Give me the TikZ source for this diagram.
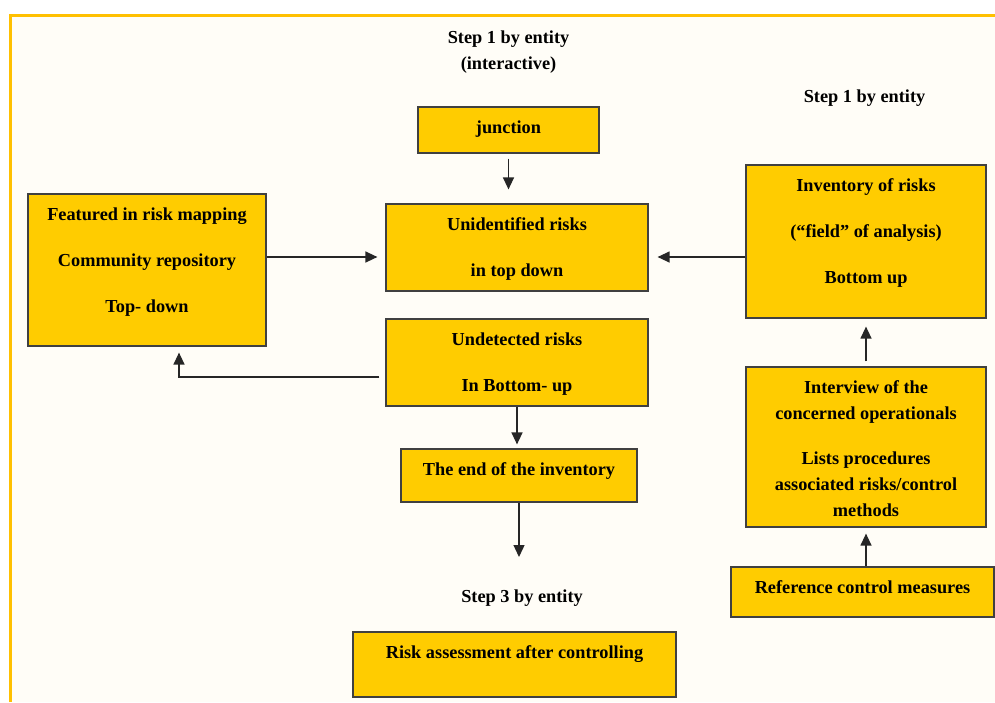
\documentclass[tikz,border=0pt]{standalone}
\usepackage{fontspec}
\setmainfont{Liberation Serif}
\usetikzlibrary{arrows.meta}
\definecolor{boxfill}{HTML}{FFCC00}
\definecolor{frameline}{HTML}{FFC000}
\definecolor{paper}{HTML}{FFFDF7}
\newcommand{\boxlines}[3]{\parbox[c][#1][t]{#2}{\centering\vspace*{14pt}#3}}
\begin{document}
\begin{tikzpicture}[x=1pt,y=-1pt,
	riskbox/.style={draw=black!75,line width=1.2pt,fill=boxfill,inner sep=0pt},
	arr/.style={draw=black!85,line width=1.3pt,-{Triangle[length=12pt,width=11pt]}},
	every node/.style={font=\fontsize{18.3}{26}\selectfont\bfseries}]
	\useasboundingbox (0,0) rectangle (995,702);
	\fill[white] (0,0) rectangle (995,702);
	\fill[paper] (10,15) rectangle (995,702);
	\draw[frameline,line width=3pt] (10,702) -- (10,15) -- (995,15);
	% headings
	\node[align=center,inner sep=0pt] (stepa) at (508.5,52) {Step 1 by entity\\(interactive)};
	\node[inner sep=0pt] (stepb) at (864.5,98) {Step 1 by entity};
	\node[inner sep=0pt] (stepc) at (522,598) {Step 3 by entity};
	% middle column
	\node[riskbox] (junc) at (508.5,130) {\boxlines{46pt}{181pt}{junction}};
	\node[riskbox] (unid) at (517,247.5) {\boxlines{87pt}{262pt}{Unidentified risks\\[20pt] in top down}};
	\node[riskbox] (undet) at (517,362.5) {\boxlines{87pt}{262pt}{Undetected risks\\[20pt] In Bottom- up}};
	\node[riskbox] (endinv) at (519,475.5) {\boxlines{53pt}{236pt}{The end of the inventory}};
	\node[riskbox] (assess) at (514.5,664.5) {\boxlines{65pt}{323pt}{Risk assessment after controlling}};
	% left and right columns
	\node[riskbox] (feat) at (147,270) {\boxlines{152pt}{238pt}{Featured in risk mapping\\[20pt] Community repository\\[20pt] Top- down}};
	\node[riskbox] (inv) at (866,241.5) {\boxlines{153pt}{240pt}{Inventory of risks\\[20pt] (“field” of analysis)\\[20pt] Bottom up}};
	\node[riskbox] (interv) at (866,447) {\boxlines{160pt}{240pt}{Interview of the\\ concerned operationals\\[19pt] Lists procedures\\ associated risks/control\\ methods}};
	\node[riskbox] (refctl) at (862.5,592) {\boxlines{50pt}{263pt}{Reference control measures}};
	% arrows
	\coordinate (featout) at ([yshift=13pt]feat.east);
	\coordinate (invout) at ([yshift=-15.5pt]inv.west);
	\coordinate (undout) at ([yshift=-14.5pt]undet.west);
	\coordinate (refout) at ([xshift=3.5pt]refctl.north);
	\coordinate (endtip) at (519,557);
	\draw[arr,shorten <=5pt,shorten >=14pt] (junc.south) -- (junc.south |- unid.north);
	\draw[arr,shorten >=8pt] (featout) -- (featout -| unid.west);
	\draw[arr,shorten >=9pt] (invout) -- (invout -| unid.east);
	\draw[arr,shorten <=6pt,shorten >=6pt] (undout) -| ([xshift=32pt]feat.south);
	\draw[arr,shorten >=4pt] (undet.south) -- (undet.south |- endinv.north);
	\draw[arr] (endinv.south) -- (endtip);
	\draw[arr,shorten <=5pt,shorten >=8pt] (interv.north) -- (inv.south);
	\draw[arr,shorten >=6pt] (refout) -- (refout |- interv.south);
\end{tikzpicture}
\end{document}
